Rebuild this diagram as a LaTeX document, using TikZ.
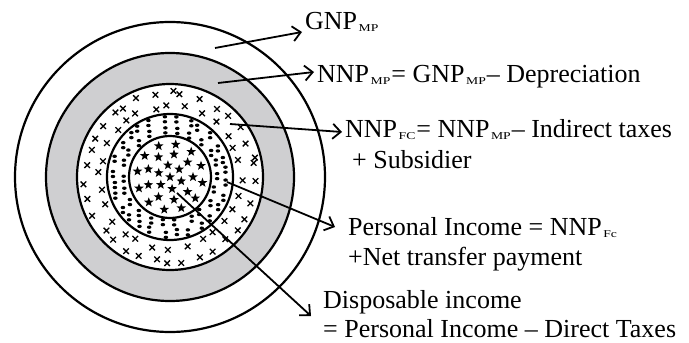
\documentclass[tikz,border=0pt]{standalone}
\usepackage{graphicx}
\usepackage{fontspec}
\setmainfont{Liberation Serif}
\usetikzlibrary{arrows.meta,shapes.geometric,calc}
\newcommand{\sbs}[1]{\hspace{1.5pt}\raisebox{-2pt}{\scalebox{1.3}[1]{\fontsize{10.5}{10.5}\selectfont #1}}\hspace{1pt}}
\definecolor{ringgray}{RGB}{207,207,209}
\tikzset{
  ringline/.style={line width=2.2pt,draw=black},
  lbl/.style={anchor=base west,inner sep=0pt,font=\fontsize{26}{30}\selectfont},
  pointer/.style={line width=1.8pt,-{Straight Barb[length=8pt,width=15pt,line width=1.8pt]}},
  xmark/.style={line width=1.3pt},
  starmark/.style={star,star points=5,star point ratio=2.4,fill=black,inner sep=0pt,minimum size=10pt},
}
\begin{document}
\begin{tikzpicture}[x=1pt,y=-1pt]
\useasboundingbox (0,0) rectangle (689,343);
\coordinate (c) at (170,177);
% fills
\fill[white] (c) circle[radius=155];
\fill[ringgray] (c) circle[radius=124];
\fill[white] (c) circle[radius=93];
% x marks
\pgfmathsetseed{11}
\foreach \r/\n/\o in {71/28/0,85/34/5}{
  \foreach \i in {1,...,\n}{
    \pgfmathsetmacro{\ang}{\o+360*\i/\n+4*rand}
    \pgfmathsetmacro{\rr}{\r+2.5*rand}
    \draw[xmark] ($(c)+(\ang:\rr)$) +(-2.8,-2.8) -- +(2.8,2.8) +(-2.8,2.8) -- +(2.8,-2.8);
  }
}
% dots
\foreach \r/\n/\o in {47/22/0,57/28/6}{
  \foreach \i in {1,...,\n}{
    \pgfmathsetmacro{\ang}{\o+360*\i/\n+3*rand}
    \pgfmathsetmacro{\rr}{\r+1.5*rand}
    \fill ($(c)+(\ang:\rr)+(0,-2.5)$) ellipse[x radius=2.3,y radius=1.7];
    \fill ($(c)+(\ang:\rr)+(0,2.5)$) ellipse[x radius=2.3,y radius=1.7];
  }
}
% stars
\node[starmark] at (c) {};
\foreach \r/\n/\o in {12/6/20,23/9/0,33/12/10}{
  \foreach \i in {1,...,\n}{
    \pgfmathsetmacro{\ang}{\o+360*\i/\n}
    \node[starmark] at ($(c)+(\ang:\r)$) {};
  }
}
% outlines
\draw[ringline] (c) circle[radius=155];
\draw[ringline] (c) circle[radius=124];
\draw[ringline] (c) circle[radius=93];
\draw[ringline] (c) circle[radius=63];
\draw[ringline] (c) circle[radius=41];
% labels
\node[lbl] (gnp) at (305,29) {GNP\sbs{MP}};
\node[lbl] (nnpmp) at (317,82) {NNP\sbs{MP}= GNP\sbs{MP}– Depreciation};
\node[lbl] (nnpfc) at (345,137) {NNP\sbs{FC}= NNP\sbs{MP}– Indirect taxes};
\node[lbl] (subs) at (352,168) {+ Subsidier};
\node[lbl] (pi) at (348,235) {Personal Income = NNP\sbs{Fc}};
\node[lbl] (pi2) at (348,265) {+Net transfer payment};
\node[lbl] (di) at (323,308) {Disposable income};
\node[lbl] (di2) at (323,337) {= Personal Income – Direct Taxes};
% arrow coordinates
\coordinate (s1) at (215,48);  \coordinate (t1) at (302,32);
\coordinate (s2) at (218,83);  \coordinate (t2) at (314,72);
\coordinate (s3) at (230,124); \coordinate (t3) at (342,132);
\coordinate (s4) at (227,182); \coordinate (t4) at (335,227);
\coordinate (s5) at (177,193); \coordinate (t5) at (311,316);
\draw[pointer] (s1) -- (t1);
\draw[pointer] (s2) -- (t2);
\draw[pointer] (s3) -- (t3);
\draw[pointer] (s4) -- (t4);
\draw[pointer] (s5) -- (t5);
\end{tikzpicture}
\end{document}
